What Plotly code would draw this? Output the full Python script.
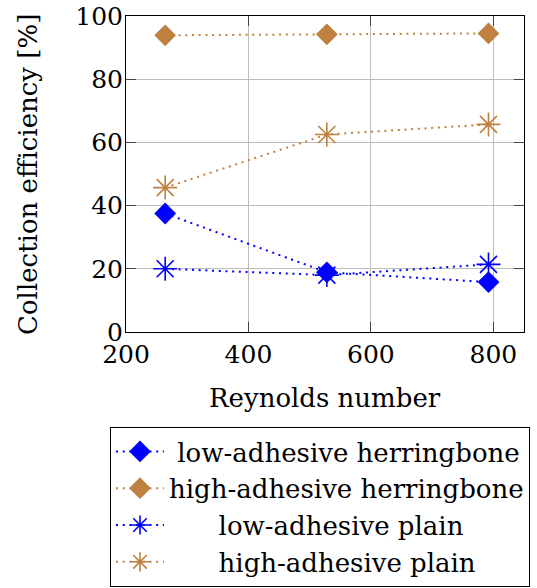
import plotly.graph_objects as go

reynolds = [264, 528, 792]
low_herringbone = [37.5, 18.9, 15.8]
high_herringbone = [93.9, 94.2, 94.5]
low_plain = [20.0, 18.0, 21.4]
high_plain = [45.7, 62.5, 65.7]

names = ["low-adhesive herringbone", "high-adhesive herringbone",
         "low-adhesive plain", "high-adhesive plain"]
x_ticks = [200, 400, 600, 800]
y_ticks = [0, 20, 40, 60, 80, 100]
x_title = "Reynolds number"
y_title = "Collection efficiency [%]"

BLUE = "#0000FF"
BROWN = "#BF8040"
FONT = "DejaVu Serif"
NB = "\u00a0"
pads = [1, 0, 6, 6]

series = [
    (low_herringbone, BLUE, "diamond", 15),
    (high_herringbone, BROWN, "diamond", 15),
    (low_plain, BLUE, "asterisk-open", 20),
    (high_plain, BROWN, "asterisk-open", 20),
]

fig = go.Figure()
for (vals, col, sym, sz), nm, p in zip(series, names, pads):
    fig.add_trace(go.Scatter(
        x=reynolds, y=vals, mode="lines+markers",
        name=NB * p + nm,
        line=dict(color=col, width=2, dash="2px,4.7px"),
        marker=dict(symbol=sym, size=sz, color=col,
                    line=dict(color=col, width=1.6)),
    ))

axis_common = dict(
    showgrid=True, gridcolor="#bdbdbd", gridwidth=1,
    showline=True, linecolor="black", linewidth=1, mirror="allticks",
    ticks="inside", ticklen=10, tickcolor="#444", tickwidth=1,
    zeroline=False, automargin=False, ticklabeloverflow="allow",
    tickfont=dict(family=FONT, size=25, color="black"),
)

fig.update_layout(
    width=537, height=588, autosize=False,
    margin=dict(l=126, r=13, t=16, b=256, autoexpand=False),
    paper_bgcolor="white", plot_bgcolor="white",
    font=dict(family=FONT, color="black"),
    xaxis=dict(range=[200, 850], tickvals=x_ticks, **axis_common),
    yaxis=dict(range=[0, 100], tickvals=y_ticks, ticklabelstandoff=-3, **axis_common),
    legend=dict(xref="container", yref="container",
                x=110 / 537, xanchor="left", y=1 - 427 / 588, yanchor="top",
                bordercolor="black", borderwidth=1, bgcolor="white",
                font=dict(family=FONT, size=26, color="black"),
                itemwidth=48, tracegroupgap=0),
    showlegend=True,
    annotations=[
        dict(text=x_title, xref="paper", yref="paper", x=0.5, y=-0.2089,
             xanchor="center", yanchor="middle", showarrow=False,
             font=dict(family=FONT, size=26, color="black")),
        dict(text=y_title, xref="paper", yref="paper", x=-0.2462, y=0.497,
             xanchor="center", yanchor="middle", showarrow=False, textangle=-90,
             font=dict(family=FONT, size=26, color="black")),
    ],
)

fig.write_html("out.html")
